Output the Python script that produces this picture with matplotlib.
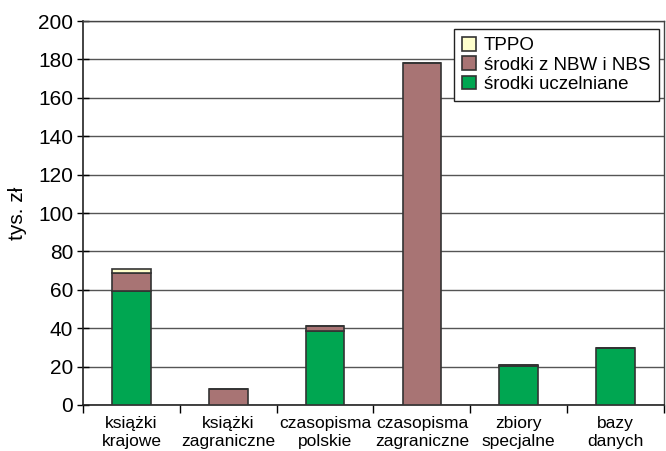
import matplotlib.pyplot as plt
import numpy as np

plt.rcParams['font.family'] = ['Liberation Sans', 'DejaVu Sans']

categories = ["książki\nkrajowe", "książki\nzagraniczne", "czasopisma\npolskie",
              "czasopisma\nzagraniczne", "zbiory\nspecjalne", "bazy\ndanych"]
uczelniane = [59.5, 0.0, 38.5, 0.0, 20.3, 29.7]
nbw_nbs = [9.5, 8.2, 2.5, 178.0, 0.3, 0.0]
tppo = [1.7, 0.0, 0.0, 0.0, 0.0, 0.0]

series_names = ["środki uczelniane", "środki z NBW i NBS", "TPPO"]
colors = ["#00a651", "#a87474", "#ffffcc"]

fig = plt.figure(figsize=(6.66, 4.51), dpi=100)
ax = fig.add_axes([0.1246, 0.102, 0.8724, 0.8514])

x = np.arange(len(categories))
bottom = np.zeros(len(categories))
handles = []
for vals, name, col in zip([uczelniane, nbw_nbs, tppo], series_names, colors):
    vals = np.array(vals)
    h = ax.bar(x, vals, width=0.4, bottom=bottom, color=col,
               edgecolor="#333333", linewidth=1.2, label=name, zorder=3)
    handles.append(h)
    bottom += vals

ax.set_xlim(-0.5, len(categories) - 0.5)
ax.set_ylim(0, 200)
ax.set_yticks(np.arange(0, 201, 20))
ax.yaxis.grid(True, color="#555555", linewidth=1.0, zorder=0)
ax.tick_params(axis="y", labelsize=15, direction="inout", length=8, width=1, pad=3)
ax.set_ylabel("tys. zł", fontsize=15, labelpad=8)

ax.set_xticks(x)
ax.set_xticklabels(categories, fontsize=12.5, linespacing=1.25)
ax.tick_params(axis="x", length=0, pad=8)
ax.set_xticks(np.arange(-0.5, len(categories)), minor=True)
ax.tick_params(axis="x", which="minor", direction="out", length=6, width=1)

for side in ["left", "bottom"]:
    ax.spines[side].set_color("#222222")
    ax.spines[side].set_linewidth(1.2)
for side in ["top", "right"]:
    ax.spines[side].set_color("#444444")
    ax.spines[side].set_linewidth(1.0)

leg = ax.legend(handles[::-1], series_names[::-1], loc="upper right",
                bbox_to_anchor=(0.997, 0.99), fontsize=13.5, frameon=True,
                fancybox=False, edgecolor="#222222", framealpha=1,
                handlelength=0.75, handleheight=0.75, handletextpad=0.4,
                labelspacing=0.1, borderpad=0.45, borderaxespad=0.2)
leg.get_frame().set_linewidth(1.0)

fig.savefig("out.png", dpi=100)
